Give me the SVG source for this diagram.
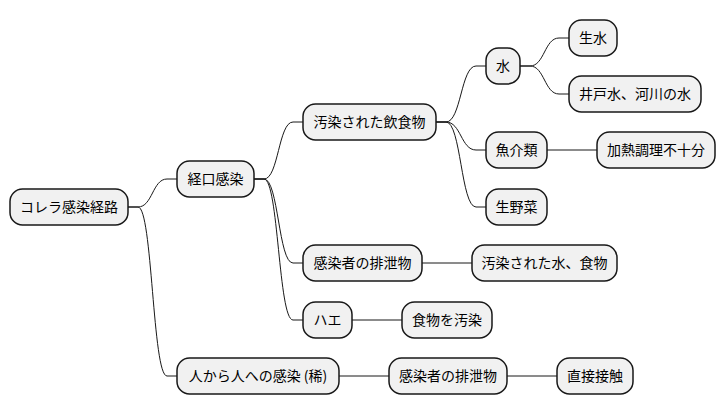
<svg xmlns="http://www.w3.org/2000/svg" width="726" height="415" viewBox="0 0 726 415">
<style>
.n rect{fill:#F1F1F1;stroke:#181818;stroke-width:1.5}
.n text{font-family:"Noto Sans CJK JP","Noto Sans",sans-serif;font-size:14px;fill:#000;text-anchor:middle}
#edges path{fill:none;stroke:#181818;stroke-width:1}
</style>
<rect width="726" height="415" fill="#FFFFFF"/>
<g id="edges">
<path d="M128,207 H138 C152.5,207 152.5,179 167,179 H177"/>
<path d="M128,207 H138 C152.5,207 152.5,376 167,376 H177"/>
<path d="M254,179 H264 C278.5,179 278.5,122 293,122 H303"/>
<path d="M254,179 H264 C278.5,179 278.5,263 293,263 H303"/>
<path d="M254,179 H264 C278.5,179 278.5,320 293,320 H303"/>
<path d="M436,122 H446 C461,122 461,66 476,66 H486"/>
<path d="M436,122 H446 C461,122 461,150 476,150 H486"/>
<path d="M436,122 H446 C461,122 461,207 476,207 H486"/>
<path d="M520,66 H530 C544.5,66 544.5,38 559,38 H569"/>
<path d="M520,66 H530 C544.5,66 544.5,94 559,94 H569"/>
<path d="M547,150 H597"/>
<path d="M422,263 H472"/>
<path d="M352,320 H402"/>
<path d="M339,376 H389"/>
<path d="M507,376 H557"/>
</g>
<g id="root" class="n"><rect x="10" y="189" width="118" height="36" rx="12.5"/><text x="69" y="212">コレラ感染経路</text></g>
<g id="oral" class="n"><rect x="177" y="161" width="77" height="36" rx="12.5"/><text x="215.5" y="184">経口感染</text></g>
<g id="food" class="n"><rect x="303" y="104" width="133" height="36" rx="12.5"/><text x="369.5" y="127">汚染された飲食物</text></g>
<g id="water" class="n"><rect x="486" y="48" width="34" height="36" rx="12.5"/><text x="503" y="71">水</text></g>
<g id="rawwater" class="n"><rect x="569" y="20" width="48" height="36" rx="12.5"/><text x="593" y="43">生水</text></g>
<g id="well" class="n"><rect x="569" y="76" width="132" height="36" rx="12.5"/><text x="635" y="99">井戸水、河川の水</text></g>
<g id="seafood" class="n"><rect x="486" y="132" width="61" height="36" rx="12.5"/><text x="516.5" y="155">魚介類</text></g>
<g id="undercook" class="n"><rect x="597" y="132" width="118" height="36" rx="12.5"/><text x="656" y="155">加熱調理不十分</text></g>
<g id="veg" class="n"><rect x="486" y="189" width="61" height="36" rx="12.5"/><text x="516.5" y="212">生野菜</text></g>
<g id="excreta1" class="n"><rect x="303" y="245" width="119" height="36" rx="12.5"/><text x="362.5" y="268">感染者の排泄物</text></g>
<g id="contam" class="n"><rect x="472" y="245" width="145" height="36" rx="12.5"/><text x="544.5" y="268">汚染された水、食物</text></g>
<g id="fly" class="n"><rect x="303" y="302" width="49" height="36" rx="12.5"/><text x="327.5" y="325">ハエ</text></g>
<g id="foodcontam" class="n"><rect x="402" y="302" width="90" height="36" rx="12.5"/><text x="447" y="325">食物を汚染</text></g>
<g id="person" class="n"><rect x="177" y="358" width="162" height="36" rx="12.5"/><text x="258" y="381">人から人への感染 (稀)</text></g>
<g id="excreta2" class="n"><rect x="389" y="358" width="118" height="36" rx="12.5"/><text x="448" y="381">感染者の排泄物</text></g>
<g id="contact" class="n"><rect x="557" y="358" width="76" height="36" rx="12.5"/><text x="595" y="381">直接接触</text></g>
</svg>
